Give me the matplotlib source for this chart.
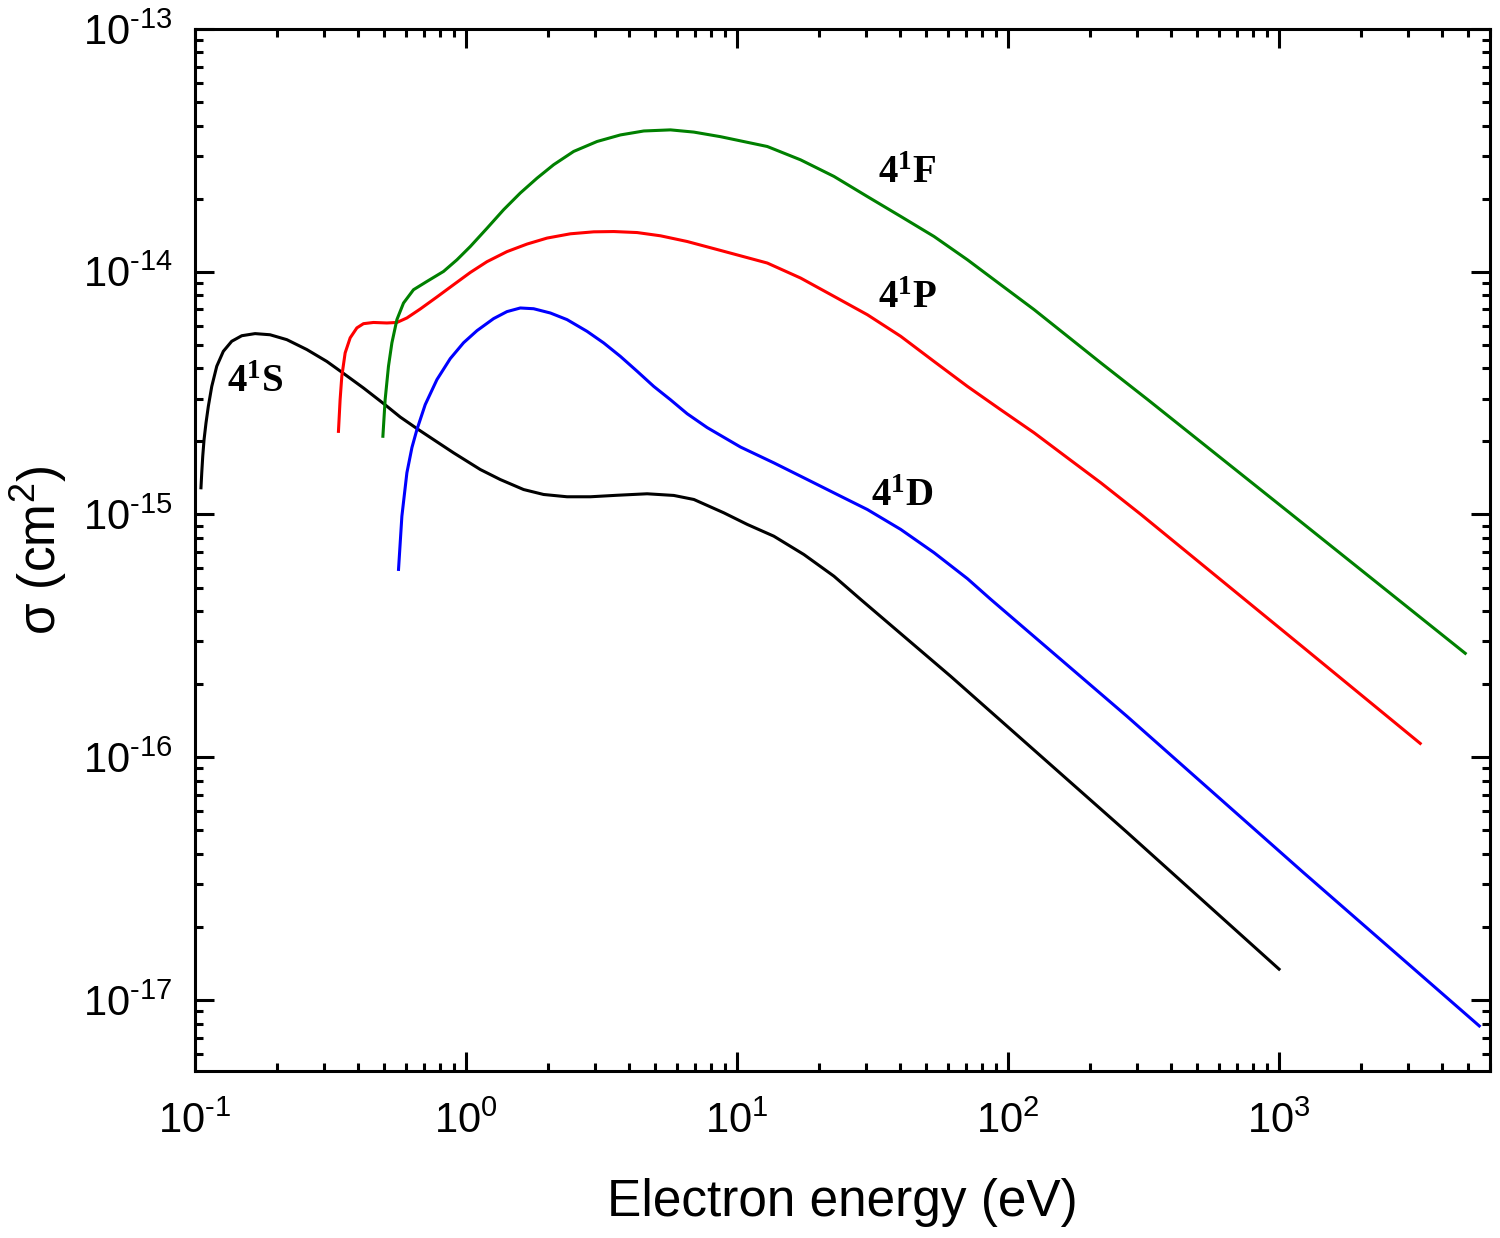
import matplotlib

matplotlib.use("Agg")
import matplotlib.pyplot as plt
from matplotlib.ticker import FuncFormatter, LogLocator, NullFormatter
import numpy as np

plt.rcParams.update({"font.family": "Liberation Sans", "axes.unicode_minus": False})

# --- cross sections (energy in eV, sigma in cm^2) --------------------------------------
e_4s = [0.1052, 0.1059, 0.1068, 0.1080, 0.1098, 0.1120, 0.1153, 0.1203, 0.1272, 0.1366,
        0.1488, 0.1666, 0.1892, 0.2182, 0.2586, 0.3065, 0.3499, 0.4184, 0.503, 0.5718,
        0.6624, 0.7587, 0.8995, 1.129, 1.338, 1.631, 1.933, 2.359, 2.877, 3.61, 4.659,
        5.843, 6.93, 8.938, 10.91, 13.67, 17.65, 22.78, 28.58, 61.45, 274.6, 1000]
s_4s = [1.288e-15, 1.485e-15, 1.738e-15, 2.035e-15, 2.384e-15, 2.79e-15, 3.37e-15,
        4.08e-15, 4.70e-15, 5.17e-15, 5.45e-15, 5.56e-15, 5.50e-15, 5.25e-15, 4.78e-15,
        4.27e-15, 3.84e-15, 3.32e-15, 2.83e-15, 2.52e-15, 2.25e-15, 2.035e-15, 1.795e-15,
        1.532e-15, 1.393e-15, 1.267e-15, 1.209e-15, 1.183e-15, 1.183e-15, 1.20e-15,
        1.217e-15, 1.198e-15, 1.153e-15, 1.016e-15, 9.10e-16, 8.14e-16, 6.84e-16, 5.57e-16,
        4.47e-16, 2.154e-16, 4.91e-17, 1.34e-17]

e_4p = [0.3383, 0.3431, 0.3481, 0.3581, 0.3737, 0.3956, 0.4184, 0.4556, 0.5105, 0.5559,
        0.6051, 0.6776, 0.781, 0.8995, 1.037, 1.195, 1.416, 1.679, 1.991, 2.427, 2.959,
        3.508, 4.28, 5.219, 6.548, 8.69, 12.93, 17.16, 22.78, 30.27, 40.18, 53.33, 70.83,
        94.0, 124.8, 165.8, 220.1, 309.3, 1226, 3318]
s_4p = [2.20e-15, 2.97e-15, 3.71e-15, 4.63e-15, 5.34e-15, 5.87e-15, 6.11e-15, 6.18e-15,
        6.15e-15, 6.18e-15, 6.45e-15, 7.02e-15, 7.87e-15, 8.84e-15, 9.93e-15, 1.10e-14,
        1.21e-14, 1.30e-14, 1.376e-14, 1.433e-14, 1.46e-14, 1.464e-14, 1.45e-14, 1.406e-14,
        1.332e-14, 1.224e-14, 1.086e-14, 9.42e-15, 7.92e-15, 6.65e-15, 5.42e-15, 4.27e-15,
        3.37e-15, 2.70e-15, 2.17e-15, 1.71e-15, 1.35e-15, 1.0e-15, 2.84e-16, 1.14e-16]

e_4d = [0.5636, 0.5799, 0.6051, 0.6316, 0.6590, 0.7071, 0.781, 0.8745, 0.9795, 1.098,
        1.264, 1.416, 1.586, 1.776, 2.048, 2.359, 2.797, 3.221, 3.712, 4.28, 4.928, 5.68,
        6.548, 7.761, 10.30, 13.67, 18.17, 24.12, 30.27, 40.18, 53.33, 70.83, 86.37, 274.6,
        1226, 5480]
s_4d = [5.94e-16, 9.84e-16, 1.485e-15, 1.887e-15, 2.238e-15, 2.836e-15, 3.594e-15,
        4.385e-15, 5.10e-15, 5.72e-15, 6.41e-15, 6.85e-15, 7.09e-15, 7.04e-15, 6.76e-15,
        6.35e-15, 5.68e-15, 5.09e-15, 4.48e-15, 3.89e-15, 3.37e-15, 2.97e-15, 2.60e-15,
        2.28e-15, 1.896e-15, 1.632e-15, 1.393e-15, 1.189e-15, 1.048e-15, 8.68e-16,
        6.96e-16, 5.44e-16, 4.47e-16, 1.475e-16, 3.36e-17, 7.82e-18]

e_4f = [0.4935, 0.503, 0.5175, 0.5327, 0.5559, 0.588, 0.640, 0.7174, 0.8263, 0.926, 1.037,
        1.195, 1.376, 1.586, 1.829, 2.106, 2.496, 3.046, 3.712, 4.528, 5.68, 6.93, 8.69,
        12.93, 17.16, 22.78, 30.27, 40.18, 53.33, 70.83, 94.0, 124.8, 165.8, 220.1, 328,
        1089, 4864]
s_4f = [2.10e-15, 2.97e-15, 4.08e-15, 5.09e-15, 6.35e-15, 7.43e-15, 8.43e-15, 9.12e-15,
        1.003e-14, 1.12e-14, 1.27e-14, 1.51e-14, 1.80e-14, 2.11e-14, 2.43e-14, 2.76e-14,
        3.13e-14, 3.44e-14, 3.66e-14, 3.80e-14, 3.84e-14, 3.76e-14, 3.60e-14, 3.28e-14,
        2.89e-14, 2.47e-14, 2.04e-14, 1.69e-14, 1.397e-14, 1.12e-14, 8.84e-15, 6.98e-15,
        5.42e-15, 4.21e-15, 2.97e-15, 1.02e-15, 2.68e-16]

series = [("4^{1}S", e_4s, s_4s, "black", (0.131, 3.21e-15)),
          ("4^{1}P", e_4p, s_4p, "#ff0000", (33.0, 7.11e-15)),
          ("4^{1}D", e_4d, s_4d, "#0000ff", (31.1, 1.08e-15)),
          ("4^{1}F", e_4f, s_4f, "#008000", (33.0, 2.32e-14))]


def pow10(v, pos):
    # plain hyphen in the exponent, as in the original figure
    exp = int(round(np.log10(v)))
    return r"$\mathdefault{10^{%s}}$" % str(exp).replace("-", "\u2010")


fig = plt.figure(figsize=(15, 12.38), dpi=100)
ax = fig.add_axes([0.13, 0.1349, 0.8633, 0.8417])

for name, e, s, col, (tx, ty) in series:
    ax.plot(e, s, color=col, lw=2.2, solid_joinstyle="round")
    ax.text(tx, ty, rf"$\mathdefault{{{name}}}$", fontsize=28, fontfamily="Liberation Serif",
            fontweight="bold", ha="left", va="baseline")

ax.set_xscale("log"); ax.set_yscale("log")
ax.set_xlim(0.1, 6000); ax.set_ylim(5.1e-18, 1e-13)
for axis in (ax.xaxis, ax.yaxis):
    axis.set_major_locator(LogLocator(base=10, numticks=20))
    axis.set_minor_locator(LogLocator(base=10, subs=range(2, 10), numticks=20))
    axis.set_major_formatter(FuncFormatter(pow10))
    axis.set_minor_formatter(NullFormatter())

for sp in ax.spines.values():
    sp.set_linewidth(2.2)
ax.tick_params(which="both", direction="in", top=True, right=True, width=2.2)
ax.tick_params(which="major", length=13.5, labelsize=30)
ax.tick_params(which="minor", length=6)
ax.tick_params(axis="x", which="major", pad=22)
ax.tick_params(axis="y", which="major", pad=16)

ax.set_xlabel("Electron energy (eV)", fontsize=37, labelpad=26)
ax.set_ylabel(r"σ (cm$^{\mathdefault{2}}$)", fontsize=37, labelpad=10)

fig.savefig("out.png", dpi=100)
